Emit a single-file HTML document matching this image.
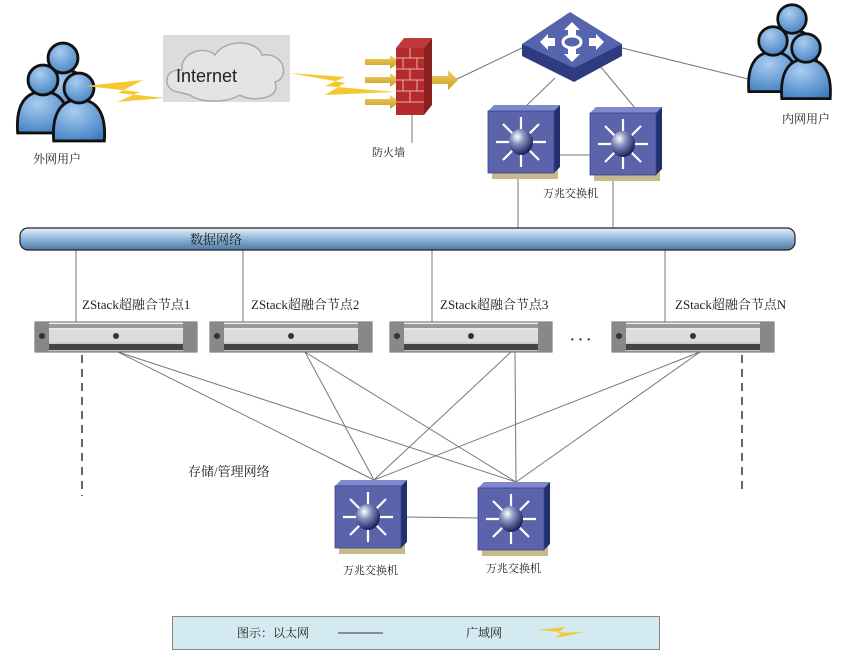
<!DOCTYPE html>
<html><head><meta charset="utf-8"><style>
html,body{margin:0;padding:0;background:#fff;width:859px;height:659px;overflow:hidden}
text{font-family:"Liberation Serif","Noto Serif CJK SC",serif;fill:#222}
</style></head><body>
<svg width="859" height="659" viewBox="0 0 859 659" xmlns="http://www.w3.org/2000/svg">
<defs>
<radialGradient id="sph" cx="0.35" cy="0.3" r="0.7"><stop offset="0" stop-color="#fff"/><stop offset="0.4" stop-color="#8890c0"/><stop offset="1" stop-color="#1c2260"/></radialGradient>
<radialGradient id="skin" cx="0.4" cy="0.3" r="0.8"><stop offset="0" stop-color="#a9cdf0"/><stop offset="1" stop-color="#3d7cc0"/></radialGradient>
<linearGradient id="pipe" x1="0" y1="0" x2="0" y2="1"><stop offset="0" stop-color="#e8f1fa"/><stop offset="0.5" stop-color="#8fb4d8"/><stop offset="1" stop-color="#4d7aa8"/></linearGradient>
<linearGradient id="srv" x1="0" y1="0" x2="0" y2="1"><stop offset="0" stop-color="#f4f4f4"/><stop offset="1" stop-color="#bdbdbd"/></linearGradient>
<linearGradient id="arr" x1="0" y1="0" x2="0" y2="1"><stop offset="0" stop-color="#f3d36a"/><stop offset="1" stop-color="#c99a20"/></linearGradient>
<g id="sw">
 <rect x="4" y="6" width="66" height="68" fill="#c8b98a"/>
 <polygon points="0,6 6,0 72,0 66,6" fill="#7f88c8"/>
 <polygon points="66,6 72,0 72,62 66,68" fill="#22306e"/>
 <rect x="0" y="6" width="66" height="62" fill="#5b64ab" stroke="#3a4290" stroke-width="0.8"/>
 <g stroke="#fff" stroke-width="2.2" fill="#fff">
  <line x1="33" y1="37" x2="33" y2="12"/><line x1="33" y1="37" x2="33" y2="62"/>
  <line x1="33" y1="37" x2="8" y2="37"/><line x1="33" y1="37" x2="58" y2="37"/>
  <line x1="33" y1="37" x2="15" y2="19"/><line x1="33" y1="37" x2="51" y2="19"/>
  <line x1="33" y1="37" x2="15" y2="55"/><line x1="33" y1="37" x2="51" y2="55"/>
 </g>
 <ellipse cx="33" cy="37" rx="12" ry="13" fill="url(#sph)"/>
</g>
<g id="person">
 <path d="M-22,46 C-24,20 -14,10 0,10 C14,10 24,20 22,46 Z" fill="url(#skin)" stroke="#111" stroke-width="2.5"/>
 <circle cx="0" cy="0" r="13" fill="url(#skin)" stroke="#111" stroke-width="2.5"/>
</g>
<g id="server">
 <rect x="0" y="0" width="162" height="30" fill="url(#srv)" stroke="#666" stroke-width="1"/>
 <rect x="0" y="0" width="14" height="30" fill="#888"/>
 <rect x="148" y="0" width="14" height="30" fill="#888"/>
 <rect x="14" y="8" width="134" height="12" fill="#dcdcdc"/>
 <rect x="14" y="22" width="134" height="6" fill="#444"/>
 <rect x="14" y="2" width="134" height="4" fill="#999"/>
 <circle cx="81" cy="14" r="3" fill="#333"/>
 <circle cx="7" cy="14" r="3" fill="#333"/>
</g>
</defs>

<g stroke="#777" stroke-width="1" fill="none">
 <line x1="455" y1="80" x2="524" y2="47"/>
 <line x1="622" y1="48" x2="752" y2="80"/>
 <line x1="555" y1="78" x2="525" y2="107"/>
 <line x1="600" y1="66" x2="635" y2="108"/>
 <line x1="558" y1="155" x2="592" y2="155"/>
 <line x1="518" y1="178" x2="518" y2="230"/>
 <line x1="613" y1="180" x2="613" y2="230"/>
 <line x1="412" y1="110" x2="412" y2="143"/>
 <line x1="76" y1="250" x2="76" y2="322"/>
 <line x1="243" y1="250" x2="243" y2="322"/>
 <line x1="432" y1="250" x2="432" y2="322"/>
 <line x1="665" y1="250" x2="665" y2="322"/>
 <line x1="118" y1="352" x2="374" y2="480"/><line x1="118" y1="352" x2="516" y2="482"/>
 <line x1="305" y1="352" x2="374" y2="480"/><line x1="305" y1="352" x2="516" y2="482"/>
 <line x1="511" y1="352" x2="374" y2="480"/><line x1="515" y1="352" x2="516" y2="482"/>
 <line x1="700" y1="352" x2="374" y2="480"/><line x1="700" y1="352" x2="516" y2="482"/>
 <line x1="405" y1="517" x2="480" y2="518"/>
</g>
<g stroke="#333" stroke-width="1.5" stroke-dasharray="8,6">
 <line x1="82" y1="355" x2="82" y2="496"/>
 <line x1="742" y1="355" x2="742" y2="492"/>
</g>

<g transform="translate(63,58) scale(1.15)"><use href="#person"/></g>
<g transform="translate(43,80) scale(1.15)"><use href="#person"/></g>
<g transform="translate(79,88) scale(1.15)"><use href="#person"/></g>
<text x="33" y="163" font-size="12">外网用户</text>

<polygon points="85,86 143,80 118,93 165,98 117,102 140,92" fill="#f5c832"/>
<rect x="163" y="35" width="127" height="67" fill="#dcdcdc"/>
<path d="M178,92 C162,90 163,68 182,70 C180,52 205,45 215,55 C225,38 258,40 262,55 C285,52 290,78 275,82 C282,100 250,102 240,95 C225,104 198,102 190,95 Z" fill="#e4e4e4" stroke="#aaa" stroke-width="1.5"/>
<text x="176" y="82" font-size="18" style="font-family:'Liberation Sans',sans-serif">Internet</text>
<polygon points="290,73 345,77 325,86 395,92 325,95 345,83" fill="#f5c832"/>

<g fill="url(#arr)">
 <polygon points="365,59 390,59 390,55 400,62 390,69 390,65 365,65"/>
 <polygon points="365,77 390,77 390,73 400,80 390,87 390,83 365,83"/>
 <polygon points="365,99 390,99 390,95 400,102 390,109 390,105 365,105"/>
 <polygon points="428,76 448,76 448,70 458,80 448,90 448,84 428,84"/>
</g>
<polygon points="396,48 404,38 432,38 424,48" fill="#c0393a"/>
<polygon points="424,48 432,38 432,105 424,115" fill="#8a1f20"/>
<rect x="396" y="48" width="28" height="67" fill="#b52a2b"/>
<g stroke="#e9b0b0" stroke-width="1">
 <line x1="396" y1="58" x2="424" y2="58"/><line x1="396" y1="69" x2="424" y2="69"/><line x1="396" y1="80" x2="424" y2="80"/><line x1="396" y1="91" x2="424" y2="91"/><line x1="396" y1="102" x2="424" y2="102"/>
 <line x1="410" y1="48" x2="410" y2="58"/><line x1="403" y1="58" x2="403" y2="69"/><line x1="417" y1="58" x2="417" y2="69"/><line x1="410" y1="69" x2="410" y2="80"/><line x1="403" y1="80" x2="403" y2="91"/><line x1="417" y1="80" x2="417" y2="91"/><line x1="410" y1="91" x2="410" y2="102"/>
</g>
<text x="372" y="156" font-size="11">防火墙</text>

<polygon points="522,44 574,64 622,44 622,56 574,82 522,56" fill="#2f3b80"/>
<polygon points="522,44 570,12 622,44 574,68" fill="#5663ad"/>
<g fill="#fff">
 <polygon points="572,22 580,30 576,30 576,35 568,35 568,30 564,30"/>
 <polygon points="572,62 580,54 576,54 576,49 568,49 568,54 564,54"/>
 <polygon points="540,42 548,34 548,38 555,38 555,46 548,46 548,50"/>
 <polygon points="604,42 596,34 596,38 589,38 589,46 596,46 596,50"/>
</g>
<ellipse cx="572" cy="42" rx="9" ry="6" fill="none" stroke="#fff" stroke-width="3"/>

<g transform="translate(792,19) scale(1.1)"><use href="#person"/></g>
<g transform="translate(773,41) scale(1.1)"><use href="#person"/></g>
<g transform="translate(806,48) scale(1.1)"><use href="#person"/></g>
<text x="782" y="123" font-size="12">内网用户</text>

<use href="#sw" x="488" y="105"/>
<use href="#sw" x="590" y="107"/>
<text x="543" y="197" font-size="11">万兆交换机</text>

<rect x="20" y="228" width="775" height="22" rx="8" fill="url(#pipe)" stroke="#222" stroke-width="1.2"/>
<text x="190" y="244" font-size="13">数据网络</text>

<text x="82" y="309" font-size="13">ZStack超融合节点1</text>
<text x="251" y="309" font-size="13">ZStack超融合节点2</text>
<text x="440" y="309" font-size="13">ZStack超融合节点3</text>
<text x="675" y="309" font-size="13">ZStack超融合节点N</text>
<use href="#server" x="35" y="322"/>
<use href="#server" x="210" y="322"/>
<use href="#server" x="390" y="322"/>
<use href="#server" x="612" y="322"/>
<text x="570" y="344" font-size="14" font-weight="bold">· · ·</text>

<text x="188" y="476" font-size="13">存储/管理网络</text>

<use href="#sw" x="335" y="480"/>
<use href="#sw" x="478" y="482"/>
<text x="343" y="574" font-size="11">万兆交换机</text>
<text x="486" y="572" font-size="11">万兆交换机</text>

<rect x="172.5" y="616.5" width="487" height="33" fill="#d3eaf0" stroke="#888"/>
<text x="237" y="637" font-size="12">图示：以太网</text>
<line x1="338" y1="633" x2="383" y2="633" stroke="#333" stroke-width="1"/>
<text x="466" y="637" font-size="12">广域网</text>
<polygon points="538,630 565,627 557,633 585,632 556,638 563,632" fill="#f5c832"/>
</svg>
</body></html>
